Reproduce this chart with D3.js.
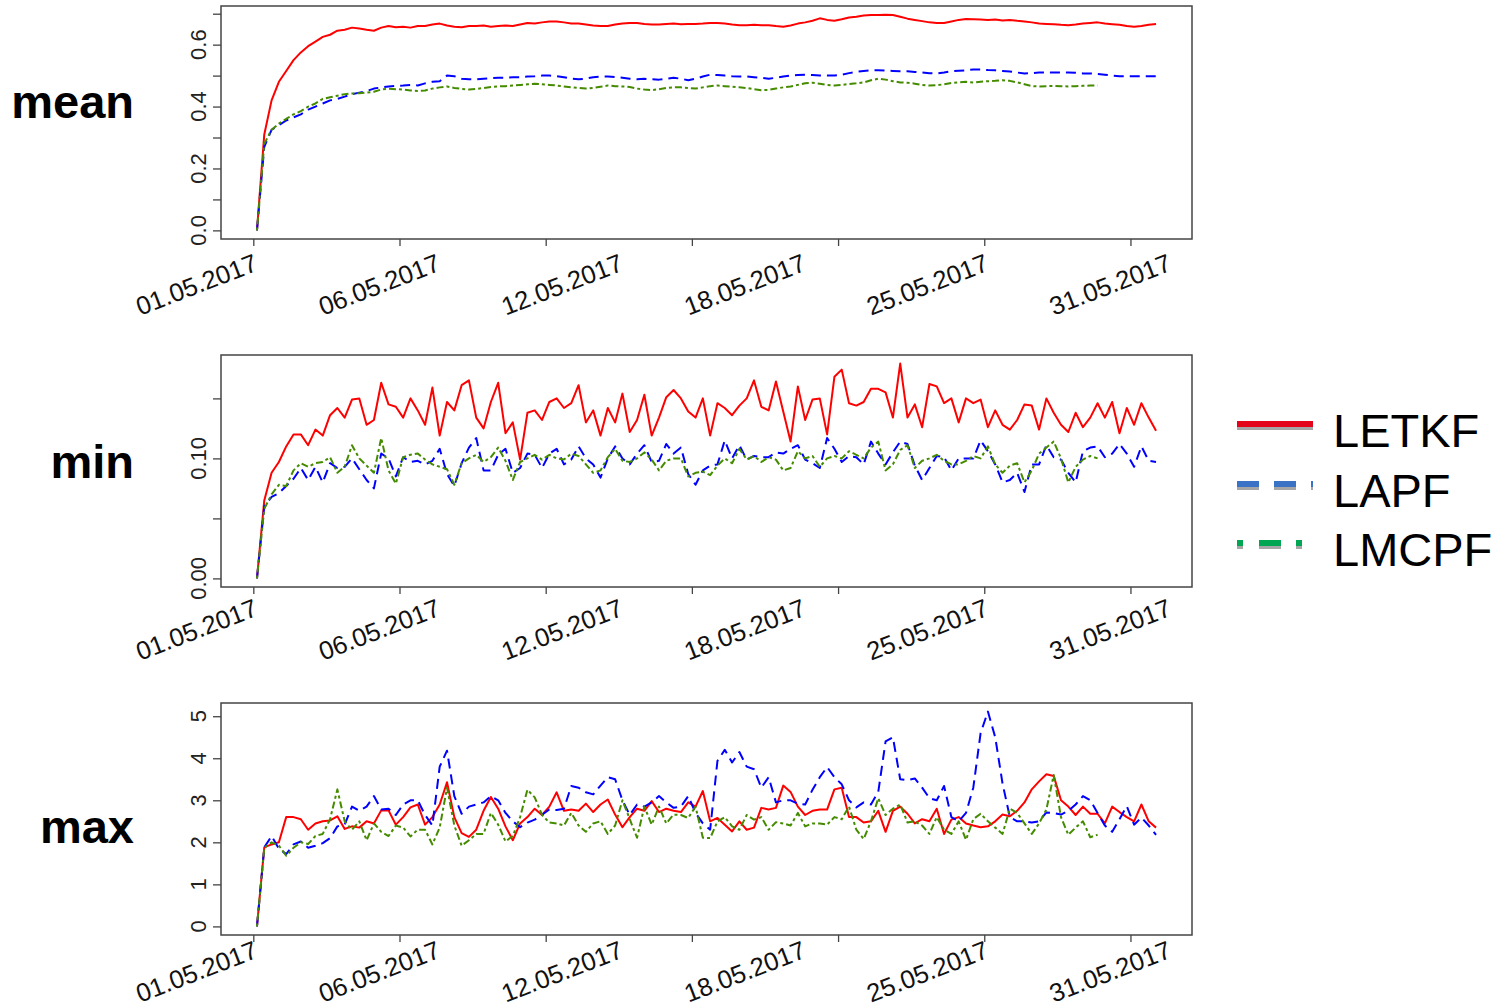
<!DOCTYPE html>
<html lang="en">
<head>
<meta charset="utf-8">
<title>mean / min / max</title>
<script src="https://d3js.org/d3.v7.min.js"></script>
<style>
  body { margin: 0; background: #fff; }
  text { font-family: "Liberation Sans", Arial, sans-serif; }
</style>
</head>
<body>
<svg id="chart" width="1506" height="1006"></svg>
<script>
// time axis: 3-hourly steps from 01.05.2017, values every second step
var xTicks = [0, 40, 80, 120, 160, 200, 240];
var xLabelSteps = [0, 50, 100, 150, 200, 250];
var xLabels = ["01.05.2017", "06.05.2017", "12.05.2017", "18.05.2017", "25.05.2017", "31.05.2017"];

var methods = ["LETKF", "LAPF", "LMCPF"];

// mean
var meanLETKF = [0, 0.31, 0.42, 0.48, 0.515, 0.55, 0.575, 0.595, 0.61, 0.625,
  0.632, 0.645, 0.648, 0.655, 0.652, 0.648, 0.645, 0.655, 0.66, 0.656,
  0.658, 0.655, 0.66, 0.66, 0.665, 0.668, 0.662, 0.658, 0.656, 0.66,
  0.66, 0.662, 0.658, 0.66, 0.662, 0.66, 0.665, 0.67, 0.668, 0.672,
  0.675, 0.675, 0.672, 0.668, 0.668, 0.665, 0.662, 0.66, 0.66, 0.665,
  0.668, 0.67, 0.67, 0.667, 0.665, 0.665, 0.667, 0.668, 0.666, 0.667,
  0.667, 0.668, 0.67, 0.67, 0.668, 0.665, 0.663, 0.663, 0.664, 0.663,
  0.663, 0.66, 0.658, 0.662, 0.668, 0.672, 0.677, 0.685, 0.68, 0.677,
  0.682, 0.688, 0.69, 0.694, 0.696, 0.696, 0.697, 0.696, 0.69, 0.684,
  0.68, 0.676, 0.672, 0.67, 0.67, 0.675, 0.68, 0.683, 0.682, 0.681,
  0.68, 0.681, 0.678, 0.68, 0.677, 0.675, 0.672, 0.668, 0.667, 0.666,
  0.664, 0.663, 0.665, 0.668, 0.67, 0.672, 0.668, 0.666, 0.664, 0.66,
  0.658, 0.66, 0.664, 0.667];
var meanLAPF = [0, 0.27, 0.325, 0.34, 0.355, 0.365, 0.375, 0.39, 0.4, 0.41,
  0.42, 0.425, 0.432, 0.44, 0.445, 0.45, 0.458, 0.462, 0.465, 0.467,
  0.468, 0.47, 0.468, 0.475, 0.48, 0.482, 0.5, 0.498, 0.49, 0.488,
  0.488, 0.49, 0.492, 0.493, 0.493, 0.495, 0.495, 0.497, 0.498, 0.5,
  0.5, 0.498, 0.495, 0.49, 0.488, 0.49, 0.495, 0.497, 0.497, 0.495,
  0.493, 0.49, 0.488, 0.49, 0.488, 0.487, 0.49, 0.493, 0.49, 0.485,
  0.49, 0.497, 0.503, 0.502, 0.5, 0.498, 0.497, 0.497, 0.495, 0.493,
  0.49, 0.493, 0.497, 0.5, 0.502, 0.503, 0.502, 0.5, 0.5, 0.5,
  0.503, 0.508, 0.512, 0.515, 0.517, 0.517, 0.516, 0.515, 0.514, 0.514,
  0.512, 0.51, 0.508, 0.507, 0.51, 0.514, 0.516, 0.517, 0.52, 0.52,
  0.518, 0.517, 0.515, 0.513, 0.51, 0.507, 0.508, 0.51, 0.51, 0.51,
  0.51, 0.51, 0.509, 0.507, 0.507, 0.505, 0.503, 0.5, 0.498, 0.498,
  0.498, 0.498, 0.498, 0.498];
var meanLMCPF = [0, 0.28, 0.325, 0.345, 0.36, 0.375, 0.385, 0.4, 0.41, 0.425,
  0.43, 0.435, 0.44, 0.442, 0.443, 0.445, 0.448, 0.455, 0.458, 0.456,
  0.455, 0.452, 0.45, 0.452, 0.458, 0.462, 0.465, 0.46, 0.457, 0.455,
  0.457, 0.46, 0.463, 0.465, 0.466, 0.468, 0.47, 0.472, 0.474, 0.472,
  0.47, 0.468, 0.465, 0.462, 0.46, 0.458, 0.46, 0.464, 0.468, 0.466,
  0.465, 0.463, 0.458, 0.455, 0.453, 0.456, 0.46, 0.462, 0.462, 0.46,
  0.458, 0.462, 0.466, 0.468, 0.466, 0.464, 0.462, 0.46, 0.456, 0.453,
  0.454, 0.458, 0.462, 0.465, 0.47, 0.475, 0.477, 0.474, 0.47, 0.468,
  0.47, 0.473, 0.475, 0.478, 0.485, 0.49, 0.487, 0.482, 0.478, 0.477,
  0.474, 0.47, 0.468, 0.469, 0.472, 0.476, 0.478, 0.48, 0.478, 0.48,
  0.482, 0.483, 0.485, 0.483, 0.478, 0.472, 0.466, 0.465, 0.466, 0.467,
  0.466, 0.465, 0.466, 0.467, 0.468, 0.468];

// min
var minLETKF = [0, 0.065, 0.088, 0.097, 0.11, 0.12, 0.12, 0.111, 0.124, 0.119,
  0.136, 0.142, 0.134, 0.149, 0.15, 0.128, 0.132, 0.163, 0.145, 0.143,
  0.134, 0.15, 0.14, 0.128, 0.159, 0.119, 0.147, 0.14, 0.161, 0.165,
  0.134, 0.125, 0.147, 0.163, 0.121, 0.13, 0.099, 0.138, 0.14, 0.132,
  0.147, 0.15, 0.142, 0.146, 0.161, 0.13, 0.14, 0.119, 0.142, 0.13,
  0.154, 0.122, 0.132, 0.153, 0.119, 0.134, 0.151, 0.157, 0.15, 0.139,
  0.134, 0.15, 0.119, 0.146, 0.142, 0.136, 0.144, 0.15, 0.165, 0.143,
  0.14, 0.164, 0.139, 0.114, 0.16, 0.132, 0.149, 0.15, 0.12, 0.168,
  0.174, 0.146, 0.144, 0.147, 0.158, 0.158, 0.155, 0.134, 0.179, 0.134,
  0.145, 0.126, 0.162, 0.16, 0.146, 0.15, 0.13, 0.15, 0.146, 0.149,
  0.126, 0.14, 0.128, 0.124, 0.132, 0.145, 0.144, 0.124, 0.15, 0.138,
  0.128, 0.122, 0.138, 0.126, 0.134, 0.146, 0.134, 0.147, 0.121, 0.142,
  0.128, 0.146, 0.134, 0.123];
var minLAPF = [0, 0.06, 0.068, 0.071, 0.077, 0.083, 0.092, 0.082, 0.093, 0.08,
  0.096, 0.092, 0.093, 0.1, 0.091, 0.082, 0.075, 0.104, 0.1, 0.085,
  0.101, 0.097, 0.098, 0.095, 0.098, 0.108, 0.087, 0.077, 0.096, 0.109,
  0.117, 0.09, 0.09, 0.103, 0.108, 0.088, 0.092, 0.104, 0.103, 0.092,
  0.104, 0.108, 0.095, 0.099, 0.11, 0.1, 0.095, 0.084, 0.1, 0.11,
  0.1, 0.095, 0.104, 0.111, 0.097, 0.098, 0.112, 0.104, 0.109, 0.087,
  0.078, 0.09, 0.094, 0.095, 0.115, 0.1, 0.111, 0.099, 0.102, 0.101,
  0.101, 0.105, 0.104, 0.108, 0.111, 0.099, 0.096, 0.092, 0.117, 0.108,
  0.097, 0.102, 0.101, 0.095, 0.114, 0.104, 0.095, 0.105, 0.114, 0.112,
  0.094, 0.082, 0.092, 0.102, 0.101, 0.09, 0.1, 0.1, 0.1, 0.115,
  0.106, 0.095, 0.08, 0.082, 0.088, 0.072, 0.095, 0.095, 0.111, 0.101,
  0.099, 0.088, 0.08, 0.106, 0.109, 0.11, 0.101, 0.104, 0.112, 0.104,
  0.093, 0.11, 0.098, 0.097];
var minLMCPF = [0, 0.058, 0.07, 0.078, 0.077, 0.09, 0.096, 0.093, 0.096, 0.097,
  0.101, 0.088, 0.093, 0.111, 0.1, 0.094, 0.088, 0.117, 0.09, 0.079,
  0.101, 0.103, 0.104, 0.099, 0.095, 0.093, 0.091, 0.078, 0.096, 0.1,
  0.103, 0.097, 0.101, 0.109, 0.098, 0.082, 0.097, 0.1, 0.103, 0.099,
  0.103, 0.1, 0.099, 0.104, 0.102, 0.095, 0.088, 0.09, 0.101, 0.108,
  0.098, 0.097, 0.1, 0.105, 0.099, 0.09, 0.098, 0.1, 0.1, 0.085,
  0.088, 0.089, 0.086, 0.094, 0.1, 0.096, 0.108, 0.099, 0.102, 0.097,
  0.101, 0.099, 0.09, 0.092, 0.106, 0.1, 0.102, 0.093, 0.1, 0.102,
  0.1, 0.106, 0.103, 0.1, 0.109, 0.114, 0.09, 0.095, 0.107, 0.111,
  0.092, 0.098, 0.1, 0.103, 0.098, 0.095, 0.095, 0.098, 0.102, 0.1,
  0.11, 0.095, 0.088, 0.094, 0.096, 0.08, 0.09, 0.104, 0.109, 0.114,
  0.1, 0.08, 0.093, 0.099, 0.102, 0.1];

// max
var maxLETKF = [0, 1.88, 1.95, 2.0, 2.6, 2.6, 2.55, 2.3, 2.45, 2.5,
  2.52, 2.62, 2.32, 2.38, 2.35, 2.5, 2.45, 2.76, 2.76, 2.42,
  2.6, 2.83, 2.9, 2.42, 2.6, 2.9, 3.43, 2.6, 2.22, 2.13,
  2.3, 2.75, 3.08, 2.8, 2.38, 2.05, 2.45, 2.6, 2.8, 2.65,
  2.85, 3.19, 2.75, 2.78, 2.75, 2.92, 2.72, 2.9, 3.02, 2.66,
  2.36, 2.6, 2.8, 2.75, 2.98, 2.72, 2.8, 2.75, 2.72, 2.95,
  2.85, 3.22, 2.5, 2.58, 2.42, 2.26, 2.5, 2.3, 2.35, 2.82,
  2.78, 2.82, 3.35, 3.2, 2.85, 2.65, 2.75, 2.78, 2.78, 3.26,
  3.3, 2.6, 2.6, 2.47, 2.5, 2.75, 2.25, 2.75, 2.85, 2.68,
  2.45, 2.55, 2.5, 2.8, 2.2, 2.54, 2.6, 2.45, 2.4, 2.36,
  2.38, 2.5, 2.66, 2.62, 2.75, 2.95, 3.26, 3.45, 3.62, 3.58,
  3.0, 2.85, 2.65, 2.85, 2.68, 2.68, 2.45, 2.85, 2.72, 2.6,
  2.5, 2.9, 2.5, 2.35];
var maxLAPF = [0, 1.88, 2.15, 1.85, 1.72, 1.95, 2.02, 1.87, 1.92, 1.98,
  2.1, 2.38, 2.42, 2.85, 2.75, 2.85, 3.1, 2.78, 2.8, 2.65,
  2.9, 3.0, 3.0, 2.65, 2.4, 3.8, 4.18, 3.1, 2.68, 2.85,
  2.9, 2.95, 3.1, 3.0, 2.7, 2.5, 2.36, 2.47, 2.54, 2.66,
  2.78, 2.77, 2.8, 3.34, 3.3, 3.19, 3.14, 3.35, 3.55, 3.5,
  3.0, 2.65, 2.9, 2.85, 2.95, 3.1, 2.95, 2.82, 2.85, 3.1,
  2.7, 2.45, 2.3, 3.94, 4.2, 3.9, 4.15, 3.8, 3.74, 3.3,
  3.55, 2.95, 3.0, 3.0, 2.92, 2.9, 3.25, 3.55, 3.79, 3.55,
  3.38, 3.0, 2.83, 2.95, 2.9, 3.2, 4.4, 4.5, 3.5, 3.48,
  3.52, 3.3, 3.05, 3.0, 3.34, 2.6, 2.5, 2.7, 3.3, 4.6,
  5.11, 4.5, 3.4, 2.6, 2.5, 2.5, 2.47, 2.5, 2.71, 2.7,
  2.66, 2.75, 2.9, 3.1, 3.0, 2.7, 2.4, 2.25, 2.55, 2.86,
  2.42, 2.59, 2.4, 2.18];
var maxLMCPF = [0, 1.87, 2.0, 1.92, 1.68, 1.87, 2.0, 1.96, 2.15, 2.2,
  2.55, 3.26, 2.5, 2.3, 2.5, 2.05, 2.45, 2.25, 2.15, 2.4,
  2.35, 2.14, 2.3, 2.3, 1.95, 2.35, 3.3, 2.4, 1.92, 2.05,
  2.2, 2.2, 2.7, 2.42, 2.02, 2.15, 2.6, 3.25, 3.07, 2.65,
  2.47, 2.45, 2.4, 2.7, 2.4, 2.25, 2.45, 2.5, 2.2, 2.4,
  3.0, 2.55, 2.11, 2.85, 2.42, 2.85, 2.45, 2.66, 2.65, 2.58,
  2.85, 2.11, 2.1, 2.5, 2.6, 2.38, 2.3, 2.65, 2.54, 2.6,
  2.3, 2.48, 2.45, 2.4, 2.7, 2.38, 2.45, 2.45, 2.42, 2.6,
  2.55, 2.85, 2.3, 2.08, 2.5, 3.05, 2.65, 2.8, 2.9, 2.47,
  2.5, 2.4, 2.2, 2.6, 2.3, 2.2, 2.5, 2.06, 2.55, 2.68,
  2.5, 2.35, 2.2, 2.8, 2.7, 2.45, 2.2, 2.45, 2.78, 3.6,
  2.6, 2.18, 2.35, 2.5, 2.12, 2.18];

var meanTicks = [0, 0.1, 0.2, 0.3, 0.4, 0.5, 0.6, 0.7];
var meanLabelled = [0, 0.2, 0.4, 0.6];
var minTicks = [0, 0.05, 0.10, 0.15];
var minLabelled = [0, 0.10];
var maxTicks = [0, 1, 2, 3, 4, 5];
var maxLabelled = [0, 1, 2, 3, 4, 5];

var colors = ["#ff0000", "#0000ff", "#458b00"];
var dashes = [null, "10,6", "3,3,7,3"];
var legendColors = ["#e3061b", "#3a73c6", "#00a652"];
var legendDashes = [null, "22,15", "6,16,22,15"];

var svg = d3.select("#chart");
var left = 221, right = 1192;

// step of sample i (3-hourly, every second value)
function step(d, i) { return 2 * i + 1; }

// R-like 4% padded domain
function pad(ext) {
  var r = ext[1] - ext[0];
  return [ext[0] - 0.04 * r, ext[1] + 0.04 * r];
}

var allSteps = d3.range(meanLETKF.length).map(function(i){ return step(null, i); });
var x = d3.scaleLinear().domain(pad(d3.extent(allSteps))).range([left, right]);

var panels = [
  {label: "mean", top: 6, bottom: 239, labelY: 118, dateY: 31,
   series: [meanLETKF, meanLAPF, meanLMCPF], ticks: meanTicks, labelled: meanLabelled, fmt: d3.format(".1f")},
  {label: "min", top: 355, bottom: 587, labelY: 478, dateY: 28,
   series: [minLETKF, minLAPF, minLMCPF], ticks: minTicks, labelled: minLabelled, fmt: d3.format(".2f")},
  {label: "max", top: 703, bottom: 935, labelY: 843, dateY: 22,
   series: [maxLETKF, maxLAPF, maxLMCPF], ticks: maxTicks, labelled: maxLabelled, fmt: d3.format("d")}
];

panels.forEach(function(p) {
  var all = [].concat(p.series[0], p.series[1], p.series[2]);
  var y = d3.scaleLinear().domain(pad(d3.extent(all))).range([p.bottom, p.top]);

  var g = svg.append("g");

  // x ticks
  g.append("g")
    .attr("transform", "translate(0," + p.bottom + ")")
    .call(d3.axisBottom(x).tickValues(xTicks).tickSize(7).tickSizeOuter(0).tickFormat(""))
    .call(function(a){ a.select(".domain").remove(); a.selectAll("line").attr("stroke", "#444").attr("stroke-width", 1.3); });

  // x labels
  g.selectAll(".xlab")
    .data(xLabelSteps)
    .enter()
    .append("text")
    .attr("transform", function(d){ return "translate(" + (x(d) + 6) + "," + (p.bottom + p.dateY) + ") rotate(-21)"; })
    .attr("text-anchor", "end")
    .attr("font-size", 25.5)
    .attr("fill", "#111")
    .text(function(d, i){ return xLabels[i]; });

  // y ticks
  g.append("g")
    .attr("transform", "translate(" + left + ",0)")
    .call(d3.axisLeft(y).tickValues(p.ticks).tickSize(8).tickSizeOuter(0).tickFormat(""))
    .call(function(a){ a.select(".domain").remove(); a.selectAll("line").attr("stroke", "#444").attr("stroke-width", 1.3); });

  g.selectAll(".ylab")
    .data(p.labelled)
    .enter()
    .append("text")
    .attr("transform", function(d){ return "translate(206," + y(d) + ") rotate(-90)"; })
    .attr("text-anchor", "middle")
    .attr("font-size", 22)
    .attr("fill", "#222")
    .text(p.fmt);

  // series
  p.series.forEach(function(vals, k) {
    var line = d3.line()
      .x(function(d, i){ return x(step(d, i)); })
      .y(function(d){ return y(d); });
    g.append("path")
      .datum(vals)
      .attr("d", line)
      .attr("fill", "none")
      .attr("stroke", colors[k])
      .attr("stroke-width", 2)
      .attr("stroke-linejoin", "round")
      .attr("stroke-dasharray", dashes[k]);
  });

  // box
  g.append("rect")
    .attr("x", left)
    .attr("y", p.top)
    .attr("width", right - left)
    .attr("height", p.bottom - p.top)
    .attr("fill", "none")
    .attr("stroke", "#444")
    .attr("stroke-width", 1.5);

  // panel label
  svg.append("text")
    .attr("x", 134)
    .attr("y", p.labelY)
    .attr("text-anchor", "end")
    .attr("font-size", 47)
    .attr("font-weight", "bold")
    .attr("fill", "#000")
    .text(p.label);
});

// legend
var legendY = [424, 484, 543];
var lg = svg.append("g");
methods.forEach(function(m, k) {
  lg.append("line")
    .attr("x1", 1237).attr("x2", 1313)
    .attr("y1", legendY[k] + 3).attr("y2", legendY[k] + 3)
    .attr("stroke", "#a6a6a6").attr("stroke-width", 6)
    .attr("stroke-dasharray", legendDashes[k]);
  lg.append("line")
    .attr("x1", 1237).attr("x2", 1313)
    .attr("y1", legendY[k]).attr("y2", legendY[k])
    .attr("stroke", legendColors[k]).attr("stroke-width", 6)
    .attr("stroke-dasharray", legendDashes[k]);
  lg.append("text")
    .attr("x", 1333)
    .attr("y", legendY[k] + 23)
    .attr("font-size", 47)
    .attr("fill", "#000")
    .text(m);
});
</script>
</body>
</html>
